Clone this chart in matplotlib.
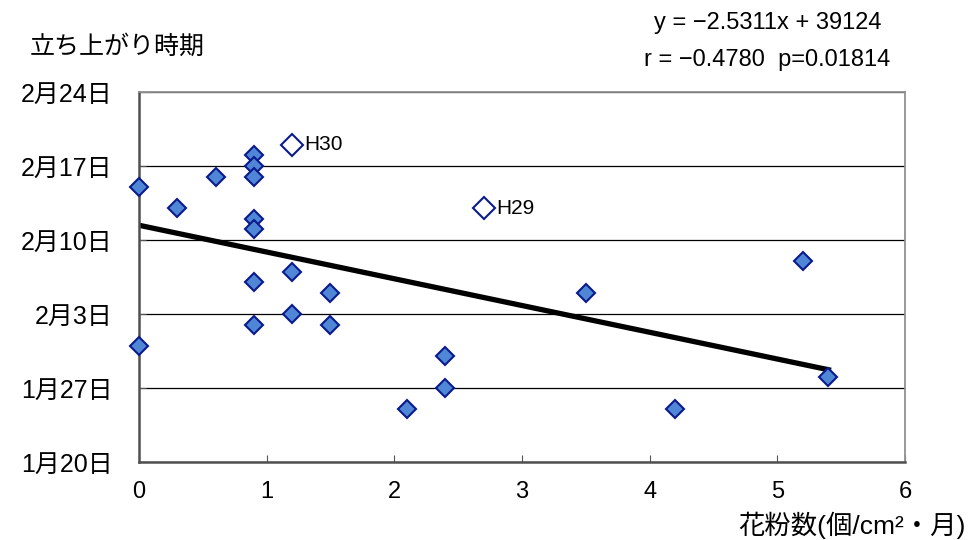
import numpy as np
import pandas as pd
import matplotlib
matplotlib.use('Agg')
from matplotlib import pyplot as plt
import matplotlib.dates as mdates

plt.rcParams['font.family'] = ['Liberation Sans', 'Noto Sans CJK JP', 'DejaVu Sans']

# 花粉数 と 立ち上がり日
pollen = [0, 0.3, 0.6, 0.9, 0.9, 0.9, 0.9, 0.9, 0.9, 1.2, 0.9,
          1.2, 1.5, 1.5, 0, 2.4, 2.4, 2.1, 3.5, 4.2, 5.2, 5.4]
start = ['02-15', '02-13', '02-16', '02-18', '02-17', '02-16', '02-12', '02-11',
         '02-06', '02-07', '02-02', '02-03', '02-05', '02-02', '01-31', '01-30',
         '01-27', '01-25', '02-05', '01-25', '02-08', '01-28']
# 強調する年
mark_names = ['H30', 'H29']
mark_pollen = [1.2, 2.7]
mark_start = ['02-19', '02-13']

yticks = ['01-20', '01-27', '02-03', '02-10', '02-17', '02-24']
eq_text = 'y = \u22122.5311x + 39124'
r_text = 'r = \u22120.4780  p=0.01814'


def to_num(lst):
    return mdates.date2num(pd.to_datetime(['2007-' + s for s in lst]))


y = to_num(start)
my = to_num(mark_start)
yt = to_num(yticks)

fig = plt.figure(figsize=(9.69, 5.40), dpi=100)
ax = fig.add_axes([0.1434, 0.1444, 0.7906, 0.6852])

ax.set_xlim(0, 6)
ax.set_ylim(yt[0], yt[-1])
ax.set_yticks(yt)
ax.set_yticklabels([f'{int(s[:2])}月{int(s[3:])}日' for s in yticks], fontsize=18)
ax.set_xticks(range(7))
ax.tick_params(axis='x', direction='in', length=5, labelsize=17, pad=14, color='#555555')
ax.tick_params(axis='y', direction='in', length=5, pad=19, color='#555555')
ax.grid(axis='y', color='black', linewidth=0.9)
ax.set_axisbelow(True)
for s in ['top', 'right']:
    ax.spines[s].set_color('#909090')
    ax.spines[s].set_linewidth(1.3)
for s in ['left', 'bottom']:
    ax.spines[s].set_color('#505050')
    ax.spines[s].set_linewidth(1.8)

# 回帰直線 (全点)
allx = np.array(pollen + mark_pollen)
ally = np.concatenate([y, my])
a, b = np.polyfit(allx, ally, 1)
lx = np.array([0, max(allx)])
ax.plot(lx, a * lx + b, color='black', linewidth=3.8, zorder=2)

ax.plot(pollen, y, 'D', ms=9, mfc='#4F86D6', mec='#0A1A8C', mew=1.5,
        clip_on=False, zorder=3)
ax.plot(mark_pollen, my, 'D', ms=11.5, mfc='white', mec='#0A1A8C', mew=1.5,
        clip_on=False, zorder=3)
for n, px, py in zip(mark_names, mark_pollen, my):
    ax.annotate(n, (px, py), xytext=(9, 0), textcoords='offset points',
                va='center', fontsize=15)

fig.text(0.031, 0.913, '立ち上がり時期', fontsize=18, va='center')
fig.text(0.792, 0.958, eq_text, fontsize=17, ha='center', va='center')
fig.text(0.792, 0.888, r_text, fontsize=17, ha='center', va='center')
fig.text(0.997, 0.027, '花粉数(個/cm²・月)', fontsize=19, ha='right', va='center')

fig.savefig('out.png', dpi=100)
